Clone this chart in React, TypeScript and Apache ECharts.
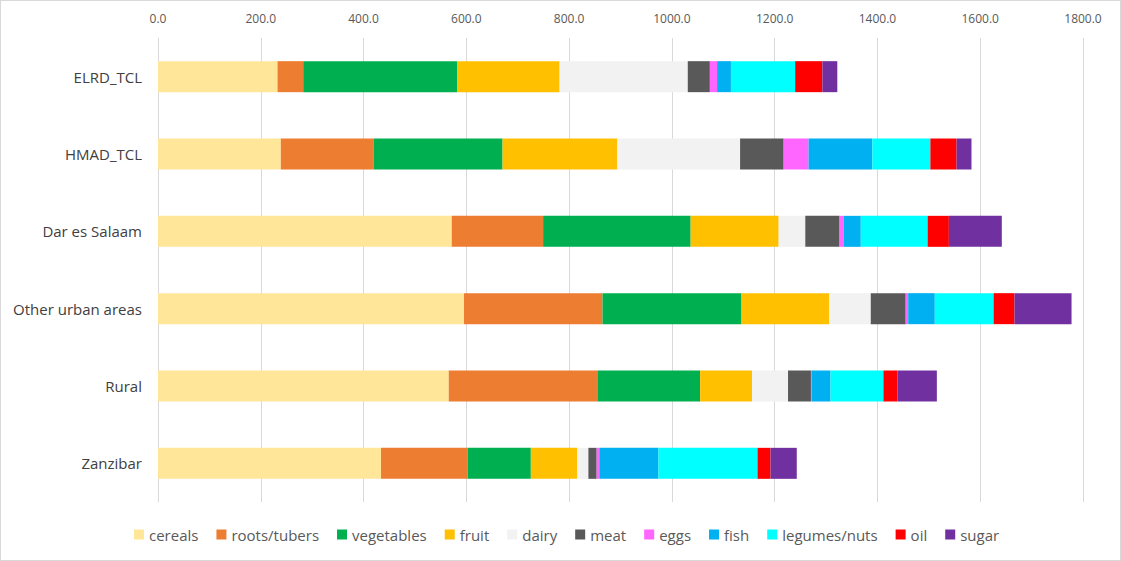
import React, { useEffect, useRef } from "react";
import * as echarts from "echarts";

const categories = ["ELRD_TCL", "HMAD_TCL", "Dar es Salaam", "Other urban areas", "Rural", "Zanzibar"];
const seriesNames = ["cereals", "roots/tubers", "vegetables", "fruit", "dairy", "meat", "eggs", "fish", "legumes/nuts", "oil", "sugar"];
const colors = ["#FFE699", "#ED7D31", "#00B050", "#FFC000", "#F2F2F2", "#595959", "#FF66FF", "#00B0F0", "#00FFFF", "#FF0000", "#7030A0"];

const cereals = [232.6, 239.0, 571.6, 595.5, 565.8, 434.0];
const roots = [50.0, 181.0, 177.8, 269.5, 289.2, 168.7];
const vegetables = [299.3, 250.5, 287.1, 270.5, 200.0, 122.8];
const fruit = [199.6, 223.5, 171.3, 170.9, 101.0, 90.5];
const dairy = [249.4, 238.7, 51.8, 80.6, 70.0, 21.5];
const meat = [43.0, 84.8, 66.7, 68.0, 44.6, 16.1];
const eggs = [14.0, 48.5, 8.4, 4.8, 1.9, 5.1];
const fish = [27.0, 124.0, 32.9, 51.8, 36.2, 115.1];
const legumes = [125.0, 113.0, 130.0, 114.4, 102.9, 192.8];
const oil = [53.0, 51.0, 41.4, 40.7, 27.4, 25.4];
const sugar = [29.0, 29.0, 103.0, 111.0, 76.6, 51.0];

const seriesData = [cereals, roots, vegetables, fruit, dairy, meat, eggs, fish, legumes, oil, sugar];
const xTicks = { min: 0, max: 1800, interval: 200 };

export default function App() {
  const ref = useRef<HTMLDivElement>(null);
  useEffect(() => {
    if (!ref.current) return;
    const chart = echarts.init(ref.current, null, { renderer: "svg" });
    chart.setOption({
      animation: false,
      backgroundColor: "#ffffff",
      textStyle: { fontFamily: "Open Sans" },
      grid: { left: 157, right: 37, top: 37, bottom: 58, containLabel: false },
      legend: {
        bottom: 13,
        left: 128,
        itemWidth: 10,
        itemHeight: 10,
        itemGap: 18,
        icon: "rect",
        textStyle: { color: "#595959", fontSize: 15, fontFamily: "Open Sans" },
        data: seriesNames,
      },
      xAxis: {
        type: "value",
        position: "top",
        min: xTicks.min,
        max: xTicks.max,
        interval: xTicks.interval,
        axisLine: { show: false },
        axisTick: { show: false },
        axisLabel: { color: "#595959", fontSize: 12, formatter: (v: number) => v.toFixed(1), margin: 14 },
        splitLine: { lineStyle: { color: "#D9D9D9", width: 1 } },
      },
      yAxis: {
        type: "category",
        inverse: true,
        data: categories,
        axisLine: { show: true, lineStyle: { color: "#D9D9D9" } },
        axisTick: { show: false },
        axisLabel: { color: "#404040", fontSize: 15, margin: 16 },
      },
      series: seriesNames.map((name, i) => ({
        name,
        type: "bar",
        stack: "total",
        barWidth: 31,
        itemStyle: { color: colors[i] },
        data: seriesData[i],
      })),
    });
    return () => chart.dispose();
  }, []);
  return (
    <div
      style={{
        position: "fixed",
        left: 0,
        top: 0,
        width: 1121,
        height: 561,
        boxSizing: "border-box",
        border: "1px solid #D9D9D9",
        background: "#fff",
      }}
    >
      <div ref={ref} style={{ width: 1119, height: 559 }} />
    </div>
  );
}
